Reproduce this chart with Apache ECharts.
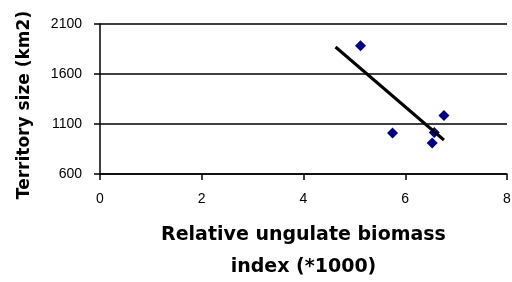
<!DOCTYPE html>
<html>
<head>
<meta charset="utf-8">
<script src="https://cdn.jsdelivr.net/npm/echarts@6/dist/echarts.min.js"></script>
<style>
  html, body { margin: 0; padding: 0; background: #fff; }
  #main { width: 512px; height: 282px; }
</style>
</head>
<body>
<div id="main"></div>
<script>
// observed points: biomass index (*1000) vs territory size (km2)
var biomass = [5.12, 5.75, 6.76, 6.53, 6.57]
var territory = [1883, 1010, 1186, 910, 1016]
// trend line ends
var trendX = [4.63, 6.76]
var trendY = [1870, 940]

var xTicks = [0, 2, 4, 6, 8]
var yTicks = [600, 1100, 1600, 2100]

var points = biomass.map(function(x, i) { return [x, territory[i]] })
var trend = trendX.map(function(x, i) { return [x, trendY[i]] })

var myChart = echarts.init(document.getElementById('main'))

var option = {
  animation: false,
  textStyle: { fontFamily: 'Liberation Sans, Arial, sans-serif' },
  grid: { left: 100, right: 5, top: 24, bottom: 108, containLabel: false, outerBoundsMode: 'none' },
  xAxis: {
    type: 'value',
    min: xTicks[0],
    max: xTicks[xTicks.length - 1],
    interval: 2,
    name: 'Relative ungulate biomass\nindex (*1000)',
    nameLocation: 'middle',
    nameGap: 45,
    nameTextStyle: { fontSize: 19, fontWeight: 'bold', color: '#000', lineHeight: 32, fontFamily: 'DejaVu Sans' },
    axisLine: { lineStyle: { color: '#000', width: 1.5 } },
    axisTick: { show: true, length: 6, lineStyle: { color: '#000', width: 1.5 } },
    axisLabel: { color: '#000', fontSize: 14, margin: 18 },
    splitLine: { show: false }
  },
  yAxis: {
    type: 'value',
    min: yTicks[0],
    max: yTicks[yTicks.length - 1],
    interval: 500,
    name: 'Territory size (km2)',
    nameLocation: 'middle',
    nameGap: 67,
    nameTextStyle: { fontSize: 17, fontWeight: 'bold', color: '#000', fontFamily: 'DejaVu Sans', padding: [0, 12, 0, 0] },
    axisLine: { show: true, lineStyle: { color: '#000', width: 1.5 } },
    axisTick: { show: true, length: 6, lineStyle: { color: '#000', width: 1.5 } },
    axisLabel: { color: '#000', fontSize: 14, margin: 18, formatter: function(v) { return String(v) } },
    splitLine: { show: true, lineStyle: { color: '#000', width: 1.5 } }
  },
  series: [
    {
      type: 'line',
      data: trend,
      symbol: 'none',
      z: 3,
      lineStyle: { color: '#000', width: 3 }
    },
    {
      type: 'scatter',
      data: points,
      symbol: 'diamond',
      symbolSize: 11,
      z: 2,
      itemStyle: { color: '#000080', opacity: 1 }
    }
  ]
}

myChart.setOption(option)
</script>
</body>
</html>
